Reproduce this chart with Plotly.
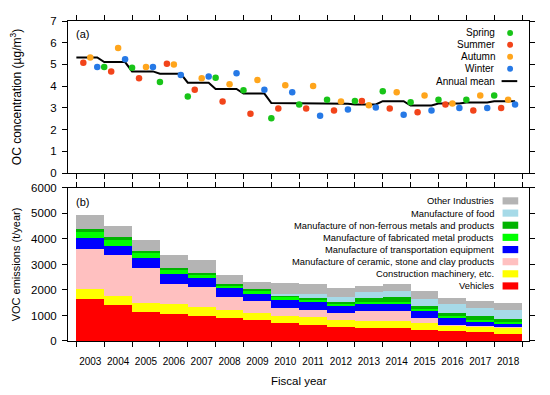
import plotly.graph_objects as go

# ---------------- data ----------------
years = list(range(2003, 2019))
year_labels = [str(y) for y in years]

spring = [None, 4.88, 4.85, 4.19, 3.52, 4.39, 3.81, 2.52, 3.16, 3.37, 3.32, 3.77, 3.26, 3.37, 3.37, 3.57]
summer = [5.08, 4.68, 4.36, 5.03, 3.84, 3.29, 2.73, 2.97, 2.97, 2.88, 3.32, 2.97, 2.80, 3.16, 2.88, 3.00]
autumn = [5.32, 5.76, 4.88, 5.00, 4.36, 4.09, 4.28, 4.04, 4.01, 3.29, 3.12, 3.72, 3.57, 3.20, 3.57, 3.37]
winter = [4.88, 5.24, 4.88, 4.51, 4.45, 4.60, 3.84, 3.72, 2.64, 2.93, 3.02, 2.68, 2.88, 3.00, 3.00, 3.16]
annual_mean = [5.32, 5.11, 4.68, 4.57, 4.16, 3.87, 3.66, 3.22, 3.22, 3.19, 3.16, 3.31, 3.11, 3.20, 3.25, 3.31]

vehicles = [1640, 1400, 1125, 1060, 985, 920, 810, 725, 640, 555, 510, 510, 450, 375, 345, 290]
construction = [410, 380, 385, 390, 360, 295, 275, 265, 295, 275, 265, 270, 260, 245, 225, 240]
ceramic = [1565, 1595, 1370, 790, 770, 530, 475, 290, 285, 260, 405, 380, 200, 20, 20, 25]
transport = [425, 350, 375, 390, 375, 345, 300, 320, 310, 300, 280, 300, 260, 265, 175, 145]
fabricated = [240, 265, 185, 170, 120, 100, 130, 140, 80, 90, 80, 80, 95, 85, 70, 65]
nonferrous = [100, 70, 90, 80, 45, 35, 55, 50, 75, 65, 135, 175, 110, 125, 140, 105]
food = [0, 0, 0, 0, 0, 0, 0, 70, 165, 170, 235, 250, 290, 350, 310, 350]
other = [555, 450, 420, 500, 510, 375, 285, 425, 370, 350, 265, 280, 295, 240, 285, 260]

season_names = ["Spring", "Summer", "Autumn", "Winter"]
emission_names = ["Vehicles", "Construction machinery, etc.",
                  "Manufacture of ceramic, stone and clay products",
                  "Manufacture of transportation equipment",
                  "Manufacture of fabricated metal products",
                  "Manufacture of non-ferrous metals and products",
                  "Manufacture of food", "Other Industries"]

# ---------------- styles ----------------
FONT = "Liberation Sans, Arial, sans-serif"
season_colors = ["#18C418", "#F2441A", "#FFA51C", "#2679E6"]
season_offsets = [0.0, 0.25, 0.5, 0.75]
emission_colors = ["#FF0000", "#FFFF00", "#FFC0C0", "#0000FF",
                   "#00FF00", "#00B400", "#A6DAE8", "#B4B4B4"]

# page body has an 8px margin: figure origin sits at (8, 8) in the window
W, H = 534, 379
L, R, T, B = 56, 7, 11, 46
PW, PH = W - L - R, H - T - B   # 471 x 322 ; window plot area x 64..535, y 19..341


def px_x(p):  # window pixel -> paper
    return (p - 64) / PW


def px_y(p):
    return (341 - p) / PH


fig = go.Figure()

# annual mean step line
lx, ly = [], []
for y, m in zip(years, annual_mean):
    lx += [y, y + 0.75]
    ly += [m, m]
fig.add_trace(go.Scatter(x=lx, y=ly, mode="lines", line=dict(color="black", width=2),
                         name="Annual mean", showlegend=False, xaxis="x", yaxis="y"))

# seasonal points
for name, vals, col, off in zip(season_names, [spring, summer, autumn, winter],
                                season_colors, season_offsets):
    fig.add_trace(go.Scatter(x=[y + off for y in years], y=vals, mode="markers",
                             marker=dict(color=col, size=6.5), name=name,
                             showlegend=False, xaxis="x", yaxis="y"))

# stacked emissions
for name, vals, col in zip(emission_names,
                           [vehicles, construction, ceramic, transport, fabricated,
                            nonferrous, food, other], emission_colors):
    fig.add_trace(go.Bar(x=[y + 0.5 for y in years], y=vals, width=1.0,
                         marker=dict(color=col, line=dict(width=0)), name=name,
                         showlegend=False, xaxis="x2", yaxis="y2"))

# invisible trace so the label axis is drawn
fig.add_trace(go.Scatter(x=[years[0] + 0.5], y=[None], xaxis="x3", yaxis="y2",
                         showlegend=False, hoverinfo="skip"))

xr = [2002.7, 2019.25]
axis_common = dict(showline=True, linecolor="black", linewidth=1, mirror="ticks",
                   ticks="outside", ticklen=5, tickcolor="black", tickwidth=1,
                   showgrid=False, zeroline=False)

top_dom = [px_y(172), 1.0]
bot_dom = [0.0, px_y(187)]

fig.update_layout(
    width=W, height=H, margin=dict(l=L, r=R, t=T, b=B),
    paper_bgcolor="white", plot_bgcolor="white",
    font=dict(family=FONT, color="black", size=11),
    barmode="stack", bargap=0, showlegend=False,
    xaxis=dict(axis_common, domain=[0, 1], anchor="y", range=xr,
               tickvals=list(range(2003, 2020)), showticklabels=False),
    yaxis=dict(axis_common, domain=top_dom, anchor="x", range=[0, 7], dtick=1,
               tickfont=dict(size=11.5), ticklabelstandoff=3,
               title=dict(text="OC concentration (µg/m<sup>3</sup>)", font=dict(size=12), standoff=26)),
    xaxis2=dict(axis_common, domain=[0, 1], anchor="y2", range=xr,
                tickvals=list(range(2003, 2020)), showticklabels=False),
    xaxis3=dict(domain=[0, 1], anchor="y2", overlaying="x2", range=xr, side="bottom",
                tickvals=[y + 0.5 for y in years], ticktext=year_labels, ticks="",
                showline=False, showgrid=False, zeroline=False,
                tickfont=dict(size=10), ticklabelstandoff=13),
    yaxis2=dict(axis_common, domain=bot_dom, anchor="x2", range=[0, 6000], dtick=1000,
                tickfont=dict(size=11.5), ticklabelstandoff=3,
                title=dict(text="VOC emissions (t/year)", font=dict(size=11), standoff=8)),
)

ann = []
shapes = []
# panel labels
ann.append(dict(x=px_x(70), y=px_y(32), xref="paper", yref="paper", text="(a)",
                showarrow=False, xanchor="left", yanchor="middle", font=dict(size=11)))
ann.append(dict(x=px_x(70), y=px_y(201), xref="paper", yref="paper", text="(b)",
                showarrow=False, xanchor="left", yanchor="middle", font=dict(size=11)))
# x axis title
ann.append(dict(x=0.5, y=px_y(381.5), xref="paper", yref="paper", text="Fiscal year",
                showarrow=False, xanchor="center", yanchor="middle", font=dict(size=11.5)))

# top legend (text right, symbol on right)
top_rows = [31, 43, 55, 67, 79.5]
for i, (name, col) in enumerate(zip(season_names, season_colors)):
    yy = top_rows[i]
    ann.append(dict(x=px_x(502), y=px_y(yy), xref="paper", yref="paper", text=name,
                    showarrow=False, xanchor="right", yanchor="middle", font=dict(size=10)))
    shapes.append(dict(type="circle", xref="paper", yref="paper",
                       x0=px_x(512.7), x1=px_x(518.7), y0=px_y(yy + 3), y1=px_y(yy - 3),
                       fillcolor=col, line=dict(width=0)))
ann.append(dict(x=px_x(502), y=px_y(top_rows[4]), xref="paper", yref="paper", text="Annual mean",
                showarrow=False, xanchor="right", yanchor="middle", font=dict(size=10)))
shapes.append(dict(type="line", xref="paper", yref="paper",
                   x0=px_x(507), x1=px_x(523), y0=px_y(top_rows[4]), y1=px_y(top_rows[4]),
                   line=dict(color="black", width=2)))

# bottom legend
bot_rows = [200, 212.3, 224.5, 236.7, 249, 261.2, 273.4, 285.6]
for name, col, yy in zip(emission_names[::-1], emission_colors[::-1], bot_rows):
    ann.append(dict(x=px_x(501.5), y=px_y(yy), xref="paper", yref="paper", text=name,
                    showarrow=False, xanchor="right", yanchor="middle", font=dict(size=9.4)))
    shapes.append(dict(type="rect", xref="paper", yref="paper",
                       x0=px_x(508), x1=px_x(524), y0=px_y(yy + 3.6), y1=px_y(yy - 3.6),
                       fillcolor=col, line=dict(width=0)))

fig.update_layout(annotations=ann, shapes=shapes)
fig.write_html("out.html")
